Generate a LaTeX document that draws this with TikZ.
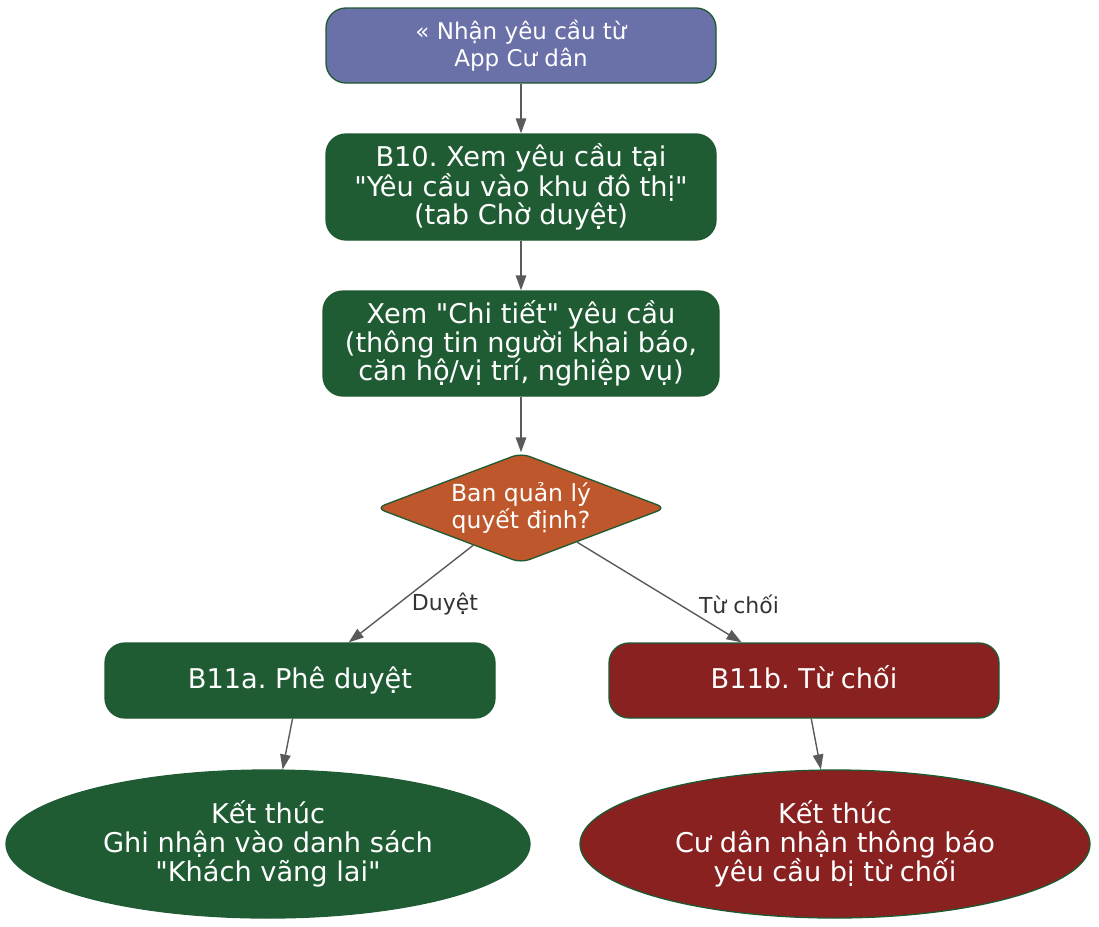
\documentclass[tikz,border=0pt]{standalone}
\usepackage{fontspec}
\setmainfont{DejaVu Sans}[Ligatures=TeXOff]
\usetikzlibrary{shapes.geometric,arrows.meta}
\definecolor{cgreen}{HTML}{1F5C33}
\definecolor{cborder}{HTML}{1E5A30}
\definecolor{cblue}{HTML}{6A70A8}
\definecolor{corange}{HTML}{BE582C}
\definecolor{cred}{HTML}{892121}
\definecolor{cedge}{HTML}{5A5A5A}
\definecolor{clabel}{HTML}{333333}
\newcommand{\oneline}[1]{\raisebox{0pt}[20.7pt][5.4pt]{#1}}
\frenchspacing
\tikzset{
  box/.style={draw=cborder, line width=1.3pt, rounded corners=20pt, text=white, align=center,
    inner sep=0pt, font=\fontsize{27.2}{28.5}\selectfont},
  greenbox/.style={box, fill=cgreen},
  redbox/.style={box, fill=cred},
  startbox/.style={box, fill=cblue, font=\fontsize{23}{26.5}\selectfont},
  decision/.style={draw=cborder, line width=1.3pt, shape=diamond, aspect=2.636, fill=corange, rounded corners=9pt,
    text=white, align=center, inner sep=0pt, minimum width=290pt, minimum height=110pt,
    font=\fontsize{23.5}{26.3}\selectfont},
  endnode/.style={draw=cborder, line width=1.3pt, shape=ellipse, text=white, align=center,
    inner sep=0pt, font=\fontsize{27.2}{29}\selectfont},
  conn/.style={draw=cedge, line width=1.4pt, -{Triangle[length=15pt,width=10.5pt]}},
  elabel/.style={text=clabel, font=\fontsize{22}{24}\selectfont, inner sep=0pt}
}
\begin{document}
\begin{tikzpicture}[x=1pt,y=-1pt]
\useasboundingbox (0,0) rectangle (1099,926);
\node[startbox, minimum width=390pt, minimum height=75pt] (start) at (521,45.5) {« Nhận yêu cầu từ\\App Cư dân};
\node[greenbox, minimum width=390pt, minimum height=106pt] (b10) at (521,187) {B10. Xem yêu cầu tại\\"Yêu cầu vào khu đô thị"\\(tab Chờ duyệt)};
\node[greenbox, minimum width=396pt, minimum height=105pt] (detail) at (521,343.5) {Xem "Chi tiết" yêu cầu\\(thông tin người khai báo,\\căn hộ/vị trí, nghiệp vụ)};
\node[decision] (dec) at (521,508) {Ban quản lý\\quyết định?};
\node[greenbox, minimum width=390pt, minimum height=75pt] (b11a) at (300,680.5) {\oneline{B11a. Phê duyệt}};
\node[redbox, minimum width=390pt, minimum height=75pt] (b11b) at (804,680.5) {\oneline{B11b. Từ chối}};
\node[endnode, fill=cgreen, draw=cgreen, minimum width=524pt, minimum height=148pt] (enda) at (268,844) {Kết thúc\\Ghi nhận vào danh sách\\"Khách vãng lai"};
\node[endnode, fill=cred, minimum width=510pt, minimum height=148pt] (endb) at (835,844) {Kết thúc\\Cư dân nhận thông báo\\yêu cầu bị từ chối};
\draw[conn] (start) -- (b10);
\draw[conn] (b10) -- (detail);
\draw[conn] (detail) -- (dec);
\draw[conn] (dec) -- (b11a);
\draw[conn] (dec) -- (b11b);
\draw[conn] (b11a) -- (enda);
\draw[conn] (b11b) -- (endb);
\node[elabel] (la) at (445,604) {Duyệt};
\node[elabel] (lb) at (739,604) {Từ chối};
\end{tikzpicture}
\end{document}
